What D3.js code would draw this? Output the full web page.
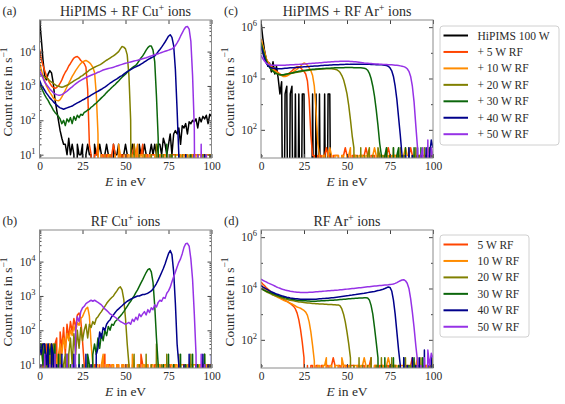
<!DOCTYPE html>
<html><head><meta charset="utf-8">
<script src="https://cdn.jsdelivr.net/npm/d3@7/dist/d3.min.js"></script>
<style>
body{margin:0;background:#fff;}
svg text, svg tspan{font-family:"Liberation Serif","Times New Roman",serif !important;fill:#2b2b2b;}
</style></head><body>
<svg id="fig" width="565" height="404" font-family="Liberation Serif, serif"></svg>
<script>
// ---------------- data ----------------
const energyEV = d3.range(0, 101); // energy bins, eV
const xTicks = [0, 25, 50, 75, 100];
const yTicksCu = [10, 100, 1000, 10000];
const yTicksAr = [100, 1e4, 1e6];
const legendTop = ["HiPIMS 100 W", "+ 5 W RF", "+ 10 W RF", "+ 20 W RF", "+ 30 W RF", "+ 40 W RF", "+ 50 W RF"];
const legendBottom = ["5 W RF", "10 W RF", "20 W RF", "30 W RF", "40 W RF", "50 W RF"];

// (a) HiPIMS + RF, Cu+ count rate (s^-1)
const aHip = [9e4,2.5e4,6e3,2e3,1.5e3,2.2e3,2.8e3,2.4e3,1.2e3,400,
 200,100,50,30,20,20,10,30,10,20,
 10,0,20,10,10,20,0,10,20,10,
 10,0,20,10,10,20,10,0,10,20,
 10,10,0,20,10,10,20,0,10,10,
 20,10,0,10,20,10,10,0,20,10,
 10,20,10,0,10,20,10,20,10,20,
 20,10,30,20,10,20,40,10,40,50,
 40,60,20,70,60,80,40,90,80,100,
 90,110,60,120,90,130,110,140,80,150,
 130];
const a5 = [1.2e4,6e3,4e3,2.8e3,2e3,1.5e3,1.2e3,1e3,900,850,
 900,1e3,1.2e3,1.5e3,2e3,2.5e3,3e3,3.8e3,4.5e3,5.5e3,
 6.5e3,7e3,7.2e3,6.5e3,5.5e3,5e3,4.5e3,3.5e3,800,20,
 10,0,10,10,20,0,10,10,0,10,
 10,0,10,20,10,0,10,10,10,0,
 10,10,0,10,10,20,10,0,10,10,
 20,0,10,10,0,10,10,10,0,10,
 10,0,10,10,10,0,10,10,10,10,
 10,10,0,10,10,10,10,0,10,10,
 10,10,10,0,10,10,10,10,0,10,
 10];
const a10 = [5e3,3e3,2e3,1.4e3,1e3,800,650,550,450,400,
 380,370,400,480,600,750,950,1.2e3,1.5e3,1.9e3,
 2.3e3,2.8e3,3.3e3,3.9e3,4.5e3,5e3,5.3e3,5.5e3,5.2e3,4.8e3,
 4.2e3,3.5e3,2.5e3,600,40,0,10,0,10,0,
 10,10,0,0,10,0,20,10,0,10,
 0,10,10,0,10,0,10,20,0,10,
 10,0,10,0,10,10,0,10,0,10,
 10,10,0,10,10,0,10,10,0,10,
 10,10,10,0,10,10,10,0,10,10,
 0,10,10,10,10,0,10,10,10,10,
 10];
const a20 = [2.2e3,2.1e3,2e3,1.8e3,1.7e3,1.6e3,1.4e3,1.3e3,1.2e3,1.1e3,
 1e3,1e3,950,920,950,1e3,1.05e3,1.1e3,1.2e3,1.3e3,
 1.4e3,1.5e3,1.6e3,1.7e3,1.9e3,2e3,2.2e3,2.4e3,2.6e3,2.9e3,
 3.1e3,3.3e3,3.5e3,3.7e3,3.9e3,4.1e3,4.4e3,4.8e3,5.2e3,5.6e3,
 6e3,6.5e3,7e3,7.5e3,8.2e3,9e3,1e4,1.2e4,1.4e4,1.35e4,
 1.2e4,8e3,2e3,100,0,20,0,0,10,0,
 0,10,0,0,0,10,0,0,20,0,
 0,0,10,0,0,0,10,0,0,10,
 0,0,0,10,0,0,0,10,0,0,
 10,0,0,0,0,10,0,0,0,10,
 0];
const a30 = [1.2e3,900,700,550,450,380,300,250,200,170,
 150,130,110,80,100,70,110,90,120,80,
 130,100,140,120,150,140,170,180,200,210,
 240,260,290,320,360,400,450,500,560,640,
 720,800,900,1e3,1.1e3,1.25e3,1.4e3,1.6e3,1.8e3,2e3,
 2.2e3,2.5e3,2.8e3,3.1e3,3.4e3,3.7e3,4e3,4.6e3,5.5e3,6.5e3,
 7.5e3,9e3,1.1e4,1.3e4,1.45e4,1.45e4,1.1e4,5e3,500,30,
 0,10,0,0,20,0,0,10,0,0,
 0,10,0,0,0,10,0,0,10,0,
 0,0,10,0,0,0,10,0,0,0,
 10];
const a40 = [1.5e3,1.1e3,900,750,620,530,450,400,350,310,
 280,250,230,220,210,220,230,240,250,260,
 280,300,320,340,360,390,410,440,470,500,
 540,580,620,660,700,750,800,860,920,1e3,
 1.1e3,1.2e3,1.3e3,1.4e3,1.5e3,1.6e3,1.75e3,1.9e3,2e3,2.2e3,
 2.4e3,2.6e3,2.8e3,3e3,3.2e3,3.4e3,3.6e3,3.8e3,4e3,4.3e3,
 4.6e3,5e3,5.4e3,5.8e3,6.2e3,6.6e3,7e3,7.5e3,8.5e3,1e4,
 1.15e4,1.35e4,1.6e4,1.9e4,2.3e4,2.8e4,3.1e4,2.6e4,1.5e4,3e3,
 200,10,0,0,0,10,0,0,0,0,
 10,0,0,0,0,0,10,0,0,0,
 10];
const a50 = [2.8e3,2.2e3,1.7e3,1.3e3,1.1e3,950,820,720,640,590,
 560,540,540,560,600,650,710,780,860,940,
 1.05e3,1.15e3,1.25e3,1.35e3,1.45e3,1.55e3,1.65e3,1.75e3,1.85e3,1.95e3,
 2.05e3,2.15e3,2.25e3,2.35e3,2.5e3,2.6e3,2.75e3,2.9e3,3e3,3.1e3,
 3.2e3,3.3e3,3.4e3,3.5e3,3.65e3,3.8e3,3.95e3,4.1e3,4.25e3,4.4e3,
 4.55e3,4.7e3,4.85e3,5e3,5.15e3,5.3e3,5.45e3,5.6e3,5.8e3,6e3,
 6.2e3,6.4e3,6.6e3,6.9e3,7.2e3,7.5e3,7.8e3,8.1e3,8.4e3,8.7e3,
 9e3,9.4e3,9.8e3,1.02e4,1.06e4,1.1e4,1.15e4,1.2e4,1.3e4,1.5e4,
 1.8e4,2.2e4,2.8e4,3.5e4,4.4e4,5.2e4,5.4e4,4.5e4,2e4,2e3,
 60,0,10,0,20,0,0,10,0,0,
 0];

// (c) HiPIMS + RF, Ar+ count rate (s^-1)
const cHip = [1.6e6,4e5,1.3e5,6e4,3e4,4e4,1.8e4,4.5e4,1.5e4,3e4,
 1e4,2500,7500,0,2500,5000,0,2500,5000,0,
 2500,0,2500,0,2500,2500,0,0,0,0,
 2500,0,2500,0,2500,0,0,2500,0,2500,
 2500,0,0,0,0,0,0,0,0,0,
 0,0,0,0,0,0,0,0,0,0,
 0,0,0,0,0,0,0,0,0,0,
 0,0,0,0,0,0,0,0,0,0,
 0,0,0,0,0,0,0,0,0,0,
 0,0,0,0,0,0,0,0,0,0,
 0];
const c5 = [3e5,1.8e5,1e5,6e4,4.5e4,3.6e4,3e4,2.6e4,2.2e4,1.9e4,
 1.7e4,1.5e4,1.35e4,1.3e4,1.3e4,1.4e4,1.55e4,1.75e4,2e4,2.3e4,
 2.6e4,2.9e4,2.9e4,2.6e4,2.2e4,1.9e4,1.5e4,8e3,1.5e3,60,
 10,10,0,10,10,10,0,10,20,10,
 10,0,10,10,10,10,0,10,10,20,
 10,10,0,10,10,10,10,0,10,10,
 10,20,10,0,10,10,10,0,10,10,
 10,0,10,10,20,10,0,10,10,10,
 0,10,10,10,10,0,10,20,10,10,
 10,0,10,10,10,10,0,10,10,10,
 10];
const c10 = [3.5e5,2e5,1.1e5,6e4,4.2e4,3.3e4,2.7e4,2.3e4,2e4,1.8e4,
 1.6e4,1.45e4,1.3e4,1.2e4,1.2e4,1.25e4,1.35e4,1.5e4,1.65e4,1.85e4,
 2.05e4,2.3e4,2.6e4,3e4,3.6e4,4e4,3.8e4,3.2e4,2.6e4,2e4,
 1.3e4,5e3,600,30,10,0,10,10,0,10,
 20,10,0,10,10,10,0,10,10,0,
 10,10,20,0,10,10,0,10,10,10,
 0,10,10,10,0,10,20,10,0,10,
 10,10,0,10,10,0,10,10,10,0,
 10,10,0,10,20,10,10,0,10,10,
 0,10,10,10,0,10,10,20,10,0,
 10];
const c20 = [2.5e5,1.5e5,8e4,5e4,3.6e4,2.8e4,2.3e4,2e4,1.8e4,1.6e4,
 1.5e4,1.4e4,1.35e4,1.35e4,1.4e4,1.45e4,1.5e4,1.55e4,1.6e4,1.65e4,
 1.7e4,1.75e4,1.8e4,1.85e4,1.9e4,1.95e4,2e4,2.05e4,2.1e4,2.15e4,
 2.2e4,2.2e4,2.25e4,2.3e4,2.3e4,2.35e4,2.35e4,2.4e4,2.4e4,2.4e4,
 2.4e4,2.4e4,2.35e4,2.3e4,2.2e4,2e4,1.7e4,1.3e4,9e3,5e3,
 2.5e3,900,250,60,20,0,10,0,20,0,
 10,0,10,20,0,10,0,0,20,10,
 0,10,0,20,0,10,0,20,0,10,
 0,20,0,10,0,0,20,0,10,0,
 20,0,10,0,0,20,0,10,0,20,
 0];
const c30 = [2.5e5,1.4e5,8e4,5e4,3.5e4,2.7e4,2.2e4,1.9e4,1.7e4,1.55e4,
 1.45e4,1.4e4,1.4e4,1.4e4,1.45e4,1.5e4,1.55e4,1.6e4,1.65e4,1.7e4,
 1.8e4,1.85e4,1.9e4,1.95e4,2e4,2.05e4,2.1e4,2.15e4,2.2e4,2.25e4,
 2.3e4,2.3e4,2.35e4,2.35e4,2.4e4,2.4e4,2.45e4,2.45e4,2.5e4,2.5e4,
 2.5e4,2.55e4,2.55e4,2.6e4,2.6e4,2.6e4,2.65e4,2.65e4,2.65e4,2.7e4,
 2.7e4,2.7e4,2.7e4,2.7e4,2.65e4,2.65e4,2.65e4,2.6e4,2.6e4,2.55e4,
 2.5e4,2.4e4,2.1e4,1.6e4,1e4,5e3,2e3,600,150,30,
 10,0,10,20,0,10,0,20,0,10,
 20,0,10,0,20,0,10,0,0,20,
 0,10,0,20,0,0,10,0,20,0,
 10];
const c40 = [1.8e5,1e5,6e4,4e4,3.2e4,2.8e4,2.6e4,2.5e4,2.45e4,2.4e4,
 2.4e4,2.4e4,2.4e4,2.45e4,2.5e4,2.5e4,2.55e4,2.6e4,2.6e4,2.65e4,
 2.7e4,2.7e4,2.75e4,2.8e4,2.8e4,2.85e4,2.9e4,2.9e4,2.95e4,3e4,
 3e4,3.05e4,3.1e4,3.1e4,3.15e4,3.2e4,3.2e4,3.25e4,3.3e4,3.3e4,
 3.35e4,3.35e4,3.4e4,3.4e4,3.45e4,3.45e4,3.5e4,3.5e4,3.5e4,3.55e4,
 3.55e4,3.55e4,3.6e4,3.6e4,3.6e4,3.6e4,3.6e4,3.6e4,3.6e4,3.6e4,
 3.6e4,3.6e4,3.55e4,3.55e4,3.5e4,3.5e4,3.5e4,3.45e4,3.45e4,3.4e4,
 3.4e4,3.35e4,3.3e4,3.2e4,3e4,2.6e4,2e4,1.2e4,5e3,1.5e3,
 300,60,10,0,10,0,20,0,10,0,
 0,20,0,10,0,0,20,0,10,40,
 20];
const c50 = [8e4,6e4,4.8e4,4e4,3.6e4,3.4e4,3.3e4,3.3e4,3.25e4,3.25e4,
 3.25e4,3.25e4,3.3e4,3.3e4,3.3e4,3.35e4,3.35e4,3.4e4,3.4e4,3.45e4,
 3.5e4,3.5e4,3.55e4,3.6e4,3.6e4,3.65e4,3.7e4,3.75e4,3.8e4,3.85e4,
 3.9e4,3.95e4,4e4,4.05e4,4.1e4,4.15e4,4.2e4,4.25e4,4.3e4,4.35e4,
 4.4e4,4.45e4,4.5e4,4.55e4,4.6e4,4.6e4,4.65e4,4.65e4,4.7e4,4.7e4,
 4.7e4,4.65e4,4.6e4,4.55e4,4.5e4,4.45e4,4.4e4,4.3e4,4.2e4,4.1e4,
 4e4,3.95e4,3.9e4,3.85e4,3.8e4,3.75e4,3.7e4,3.7e4,3.65e4,3.6e4,
 3.6e4,3.55e4,3.5e4,3.5e4,3.45e4,3.4e4,3.4e4,3.35e4,3.3e4,3.25e4,
 3.2e4,3.1e4,3e4,2.9e4,2.7e4,2.4e4,1.9e4,1.2e4,5e3,1.2e3,
 150,20,0,10,20,0,0,40,0,20,
 10];

// (b) RF only, Cu+ count rate (s^-1)
const b5 = [40,20,40,0,40,10,40,20,0,40,
 60,0,90,30,120,20,150,60,180,90,
 220,120,280,320,200,50,10,0,10,0,
 10,0,10,10,0,10,0,10,20,0,
 10,10,0,10,0,10,10,0,10,0,
 10,0,10,0,10,10,0,10,0,20,
 10,0,10,10,0,10,0,10,10,0,
 10,0,10,10,10,0,10,0,10,10,
 0,10,10,0,10,10,0,10,10,10,
 0,10,10,0,10,10,10,0,10,10,
 10];
const b10 = [20,40,10,40,20,0,40,10,40,20,
 10,20,40,20,60,30,80,50,100,70,
 130,90,170,140,220,250,330,420,470,260,
 40,10,0,10,10,0,10,20,0,10,
 10,0,10,10,0,10,10,0,10,10,
 0,10,10,0,20,10,0,10,10,0,
 10,10,0,10,0,10,10,0,10,10,
 10,0,10,10,0,10,10,10,0,10,
 10,0,10,10,10,0,10,10,0,10,
 10,10,0,10,10,10,0,10,10,0,
 10];
const b20 = [10,0,40,0,10,0,20,0,40,0,
 10,0,20,0,10,20,0,20,60,10,
 80,20,100,30,120,50,100,150,60,150,
 120,180,150,220,250,300,350,420,500,600,
 700,800,900,1000,1200,1400,1700,1850,1500,800,
 220,40,10,0,0,20,0,0,10,0,
 0,0,20,0,0,10,0,0,40,0,
 0,10,0,0,20,0,0,0,10,0,
 0,20,0,0,0,10,0,0,20,0,
 0,0,10,0,0,0,20,0,0,10,
 0];
const b30 = [40,40,10,40,0,40,20,40,10,40,
 0,20,0,10,0,0,20,0,10,0,
 0,10,0,20,0,10,0,0,20,10,
 0,20,40,20,60,30,80,50,100,70,
 130,100,150,140,180,200,230,260,300,350,
 420,500,600,700,850,1000,1250,1500,1900,2400,
 3000,3800,4800,5800,6200,5000,2500,500,60,10,
 0,0,10,0,0,20,0,0,10,0,
 0,0,20,0,0,10,0,0,0,20,
 0,0,10,0,0,0,20,0,0,0,
 10];
const b40 = [40,20,40,40,10,40,0,40,20,0,
 10,0,0,20,0,0,10,0,0,0,
 20,0,0,10,0,0,0,20,0,0,
 10,0,0,20,30,90,60,120,100,150,
 180,200,250,280,330,380,420,470,520,580,
 640,700,750,800,850,900,950,1000,1000,1050,
 1100,1100,1150,1200,1300,1400,1600,1900,2300,2900,
 3700,4800,6300,8500,12000,17000,21000,16000,5000,600,
 40,10,0,0,10,0,0,20,0,0,
 0,10,0,0,0,20,0,0,10,0,
 20];
const b50 = [0,10,0,20,0,0,10,0,0,20,
 0,0,10,0,0,0,20,0,0,10,
 0,100,250,180,350,450,500,600,650,700,
 750,700,750,700,650,600,550,480,420,380,
 340,300,280,260,240,220,200,180,170,160,
 150,160,170,150,210,180,240,200,300,250,
 300,350,280,400,330,450,400,550,480,650,
 750,700,900,850,1200,1400,1800,2600,3600,5000,
 7000,9500,12000,17000,26000,33000,34000,28000,12000,3000,
 300,20,0,0,20,0,10,0,0,0,
 0];

// (d) RF only, Ar+ count rate (s^-1)
const d5 = [1.8e4,1.5e4,1.3e4,1.1e4,9.5e3,8.3e3,7.3e3,6.5e3,5.8e3,5.3e3,
 4.8e3,4.4e3,4e3,3.7e3,3.4e3,3.2e3,2.9e3,2.6e3,2.3e3,2e3,
 1.6e3,1.1e3,600,250,80,20,0,10,0,10,
 10,0,10,10,0,10,10,0,10,10,
 0,10,20,10,0,10,10,0,10,10,
 10,0,10,10,10,0,10,10,0,10,
 10,0,10,10,20,0,10,10,0,10,
 10,10,0,10,10,0,10,10,10,0,
 10,10,0,10,10,10,0,10,20,10,
 0,10,10,10,0,10,10,0,10,10,
 10];
const d10 = [1.4e4,1.15e4,1e4,8.8e3,7.8e3,7e3,6.3e3,5.7e3,5.2e3,4.8e3,
 4.4e3,4.1e3,3.8e3,3.5e3,3.3e3,3.1e3,2.9e3,2.7e3,2.5e3,2.3e3,
 2.1e3,1.9e3,1.8e3,1.7e3,1.55e3,1.4e3,1.2e3,900,500,200,
 60,15,0,10,10,0,10,10,20,0,
 10,10,0,10,10,10,0,20,10,10,
 0,10,10,0,10,10,10,0,10,10,
 20,10,0,10,10,0,10,10,10,0,
 10,10,0,10,20,10,0,10,10,10,
 0,10,10,10,0,10,10,10,0,10,
 10,20,0,10,10,0,10,10,0,10,
 10];
const d20 = [1e4,9e3,8.2e3,7.5e3,7e3,6.5e3,6e3,5.6e3,5.3e3,5e3,
 4.8e3,4.5e3,4.3e3,4.1e3,3.9e3,3.8e3,3.6e3,3.5e3,3.4e3,3.3e3,
 3.2e3,3.1e3,3e3,2.95e3,2.9e3,2.85e3,2.8e3,2.75e3,2.7e3,2.65e3,
 2.6e3,2.6e3,2.55e3,2.55e3,2.5e3,2.5e3,2.5e3,2.45e3,2.45e3,2.4e3,
 2.4e3,2.4e3,2.35e3,2.35e3,2.3e3,2.3e3,2.1e3,1.6e3,1e3,500,
 200,70,20,0,10,0,0,20,0,10,
 0,0,10,0,20,0,0,10,0,0,
 20,0,0,10,0,0,20,0,10,0,
 0,10,0,0,20,0,0,10,0,0,
 10,0,0,20,0,10,0,0,10,0,
 20];
const d30 = [1e4,9.2e3,8.5e3,7.9e3,7.4e3,7e3,6.6e3,6.2e3,5.9e3,5.6e3,
 5.3e3,5e3,4.8e3,4.6e3,4.4e3,4.2e3,4e3,3.9e3,3.8e3,3.7e3,
 3.6e3,3.5e3,3.45e3,3.4e3,3.35e3,3.3e3,3.3e3,3.25e3,3.25e3,3.2e3,
 3.2e3,3.2e3,3.2e3,3.25e3,3.25e3,3.3e3,3.3e3,3.35e3,3.4e3,3.4e3,
 3.45e3,3.5e3,3.5e3,3.55e3,3.6e3,3.65e3,3.7e3,3.75e3,3.8e3,3.85e3,
 3.9e3,3.95e3,4e3,4.05e3,4.1e3,4.15e3,4.2e3,4.25e3,4.3e3,4.3e3,
 4.35e3,4.35e3,4.3e3,3.6e3,2.2e3,1e3,300,80,20,0,
 10,0,20,0,0,10,0,20,0,0,
 10,0,0,20,0,0,10,0,0,20,
 0,0,10,0,20,0,0,10,0,0,
 10];
const d40 = [1.3e4,1.15e4,1.05e4,9.6e3,8.8e3,8.1e3,7.5e3,7e3,6.5e3,6.1e3,
 5.8e3,5.5e3,5.2e3,5e3,4.8e3,4.6e3,4.45e3,4.3e3,4.2e3,4.1e3,
 4e3,3.95e3,3.9e3,3.85e3,3.8e3,3.8e3,3.8e3,3.8e3,3.8e3,3.8e3,
 3.8e3,3.85e3,3.85e3,3.9e3,3.95e3,4e3,4.05e3,4.1e3,4.15e3,4.2e3,
 4.3e3,4.35e3,4.4e3,4.5e3,4.6e3,4.7e3,4.8e3,4.9e3,5e3,5.1e3,
 5.2e3,5.3e3,5.45e3,5.55e3,5.7e3,5.8e3,5.95e3,6.1e3,6.25e3,6.4e3,
 6.5e3,6.7e3,6.9e3,7.1e3,7.3e3,7.5e3,7.7e3,8e3,8.3e3,8.6e3,
 9e3,9.4e3,1e4,1.07e4,1.15e4,1.1e4,8e3,3.5e3,1e3,200,
 40,10,0,20,0,10,0,0,20,0,
 10,0,20,0,0,40,0,10,0,20,
 0];
const d50 = [2.3e4,2.1e4,1.95e4,1.8e4,1.65e4,1.55e4,1.45e4,1.35e4,1.25e4,1.15e4,
 1.08e4,1.02e4,9.6e3,9.1e3,8.7e3,8.4e3,8.1e3,7.8e3,7.6e3,7.4e3,
 7.3e3,7.2e3,7.1e3,7e3,7e3,7e3,7e3,7.05e3,7.1e3,7.15e3,
 7.2e3,7.3e3,7.4e3,7.5e3,7.6e3,7.7e3,7.8e3,7.9e3,8e3,8.1e3,
 8.2e3,8.3e3,8.4e3,8.5e3,8.6e3,8.7e3,8.85e3,9e3,9.15e3,9.3e3,
 9.45e3,9.6e3,9.75e3,9.9e3,1e4,1.02e4,1.04e4,1.06e4,1.08e4,1.1e4,
 1.12e4,1.14e4,1.16e4,1.18e4,1.2e4,1.22e4,1.24e4,1.26e4,1.28e4,1.3e4,
 1.32e4,1.34e4,1.36e4,1.38e4,1.4e4,1.43e4,1.46e4,1.5e4,1.58e4,1.7e4,
 1.85e4,2e4,2.15e4,2.2e4,2e4,1.6e4,1e4,4e3,1.2e3,300,
 60,15,0,10,0,20,0,40,10,30,
 20];

// ---------------- drawing ----------------
const svg = d3.select('#fig');
const FONT = 'Liberation Serif, Times New Roman, serif';
const seriesColors = ['#000000', '#ff4500', '#ff8c00', '#808000', '#0b660b', '#00008b', '#9632e6'];
const FLOOR = 1e-6;
const PW = 172, PH = 138;

const panels = [
  {label: '(a)', title: ['HiPIMS + RF Cu', '+', ' ions'], left: 39.5, top: 20, yDomain: [8, 8.3e4], majors: yTicksCu, ar: false,
   series: [aHip, a5, a10, a20, a30, a40, a50], colors: seriesColors},
  {label: '(c)', title: ['HiPIMS + RF Ar', '+', ' ions'], left: 261, top: 20, yDomain: [8, 1.9e6], majors: yTicksAr, ar: true,
   series: [cHip, c5, c10, c20, c30, c40, c50], colors: seriesColors},
  {label: '(b)', title: ['RF Cu', '+', ' ions'], left: 39.5, top: 230, yDomain: [8, 8.3e4], majors: yTicksCu, ar: false,
   series: [b5, b10, b20, b30, b40, b50], colors: seriesColors.slice(1)},
  {label: '(d)', title: ['RF Ar', '+', ' ions'], left: 261, top: 230, yDomain: [8, 1.9e6], majors: yTicksAr, ar: true,
   series: [d5, d10, d20, d30, d40, d50], colors: seriesColors.slice(1)}
];

function minorTicks(domain, ar) {
  const out = [];
  if (ar) { [10, 1e3, 1e5].forEach(v => { if (v > domain[0] && v < domain[1]) out.push(v); }); return out; }
  for (let k = 0; k <= 5; k++) for (let m = 2; m <= 9; m++) { const v = m * Math.pow(10, k); if (v > domain[0] && v < domain[1]) out.push(v); }
  return out;
}

panels.forEach((p, pi) => {
  const g = svg.append('g');
  const x = d3.scaleLinear().domain([0, 100]).range([p.left, p.left + PW]);
  const y = d3.scaleLog().domain(p.yDomain).range([p.top + PH, p.top]);
  const clipId = 'clip' + pi;
  svg.append('defs').append('clipPath').attr('id', clipId)
    .append('rect').attr('x', p.left).attr('y', p.top).attr('width', PW).attr('height', PH);

  const line = d3.line().x((v, j) => x(energyEV[j])).y(v => y(Math.max(v, FLOOR)));
  const lg = g.append('g').attr('clip-path', `url(#${clipId})`);
  p.series.forEach((vals, i) => {
    lg.append('path').datum(vals).attr('d', line)
      .attr('fill', 'none').attr('stroke', p.colors[i]).attr('stroke-width', 1.5)
      .attr('stroke-linejoin', 'round');
  });

  const minors = minorTicks(p.yDomain, p.ar);
  const axCol = '#444';
  const styleAxis = s => { s.select('.domain').remove(); s.attr('font-family', FONT); };
  // bottom
  g.append('g').attr('transform', `translate(0,${p.top + PH})`).attr('color', axCol)
    .call(d3.axisBottom(x).tickValues(xTicks).tickSize(-4).tickSizeOuter(0).tickPadding(4).tickFormat(d3.format('d')))
    .call(styleAxis).call(s => s.selectAll('text').attr('font-size', 11.5));
  // top
  g.append('g').attr('transform', `translate(0,${p.top})`).attr('color', axCol)
    .call(d3.axisTop(x).tickValues(xTicks).tickSize(-4).tickSizeOuter(0).tickFormat(''))
    .call(styleAxis);
  // left majors
  g.append('g').attr('transform', `translate(${p.left},0)`).attr('color', axCol)
    .call(d3.axisLeft(y).tickValues(p.majors).tickSize(-4).tickSizeOuter(0).tickPadding(4).tickFormat(''))
    .call(styleAxis)
    .call(s => {
      s.selectAll('.tick text').each(function (d) {
        const t = d3.select(this).attr('font-size', 11.5);
        t.append('tspan').text('10');
        t.append('tspan').attr('dy', -5).attr('font-size', 8.5).text(Math.round(Math.log10(d)));
      });
    });
  g.append('g').attr('transform', `translate(${p.left},0)`).attr('color', axCol)
    .call(d3.axisLeft(y).tickValues(minors).tickSize(-2).tickSizeOuter(0).tickFormat(''))
    .call(styleAxis);
  // right
  g.append('g').attr('transform', `translate(${p.left + PW},0)`).attr('color', axCol)
    .call(d3.axisRight(y).tickValues(p.majors).tickSize(-4).tickSizeOuter(0).tickFormat(''))
    .call(styleAxis);
  g.append('g').attr('transform', `translate(${p.left + PW},0)`).attr('color', axCol)
    .call(d3.axisRight(y).tickValues(minors).tickSize(-2).tickSizeOuter(0).tickFormat(''))
    .call(styleAxis);

  // frame
  g.append('rect').attr('x', p.left).attr('y', p.top).attr('width', PW).attr('height', PH)
    .attr('fill', 'none').attr('stroke', '#8a8a8a').attr('stroke-width', 1);

  // title
  const tt = g.append('text').attr('x', p.left + PW / 2).attr('y', p.top - 4).attr('text-anchor', 'middle').attr('font-size', 14);
  tt.append('tspan').text(p.title[0]);
  tt.append('tspan').attr('dy', -5.5).attr('font-size', 10).text(p.title[1]);
  tt.append('tspan').attr('dy', 5.5).text(p.title[2]);
  // panel label
  g.append('text').attr('x', p.left - 37).attr('y', p.top - 5).attr('font-size', 12.5).text(p.label);
  // x label
  const xl = g.append('text').attr('x', p.left + PW / 2).attr('y', p.top + PH + 27.5).attr('text-anchor', 'middle').attr('font-size', 13.5);
  xl.append('tspan').attr('font-style', 'italic').text('E');
  xl.append('tspan').text(' in eV');
  // y label
  const yx = p.left - 27.5, yy = p.top + PH / 2 + 3;
  const yl = g.append('text').attr('transform', `translate(${yx},${yy}) rotate(-90)`).attr('text-anchor', 'middle').attr('font-size', 13.5);
  yl.append('tspan').text('Count rate in s');
  yl.append('tspan').attr('dy', -5.5).attr('font-size', 9.5).text('\u22121');
});

function drawLegend(x0, y0, w, h, labels, colors) {
  const g = svg.append('g');
  g.append('rect').attr('x', x0).attr('y', y0).attr('width', w).attr('height', h).attr('rx', 3)
    .attr('fill', '#fff').attr('fill-opacity', 0.85).attr('stroke', '#d0d0d0').attr('stroke-width', 1);
  labels.forEach((lab, i) => {
    const yy = y0 + 9.5 + i * 16.45;
    g.append('line').attr('x1', x0 + 3.5).attr('x2', x0 + 28).attr('y1', yy).attr('y2', yy)
      .attr('stroke', colors[i]).attr('stroke-width', 2);
    g.append('text').attr('x', x0 + 37.5).attr('y', yy + 4).attr('font-size', 11.5).text(lab);
  });
}
drawLegend(440, 26, 119, 119, legendTop, seriesColors);
drawLegend(440, 235, 89, 102, legendBottom, seriesColors.slice(1));
</script></body></html>
